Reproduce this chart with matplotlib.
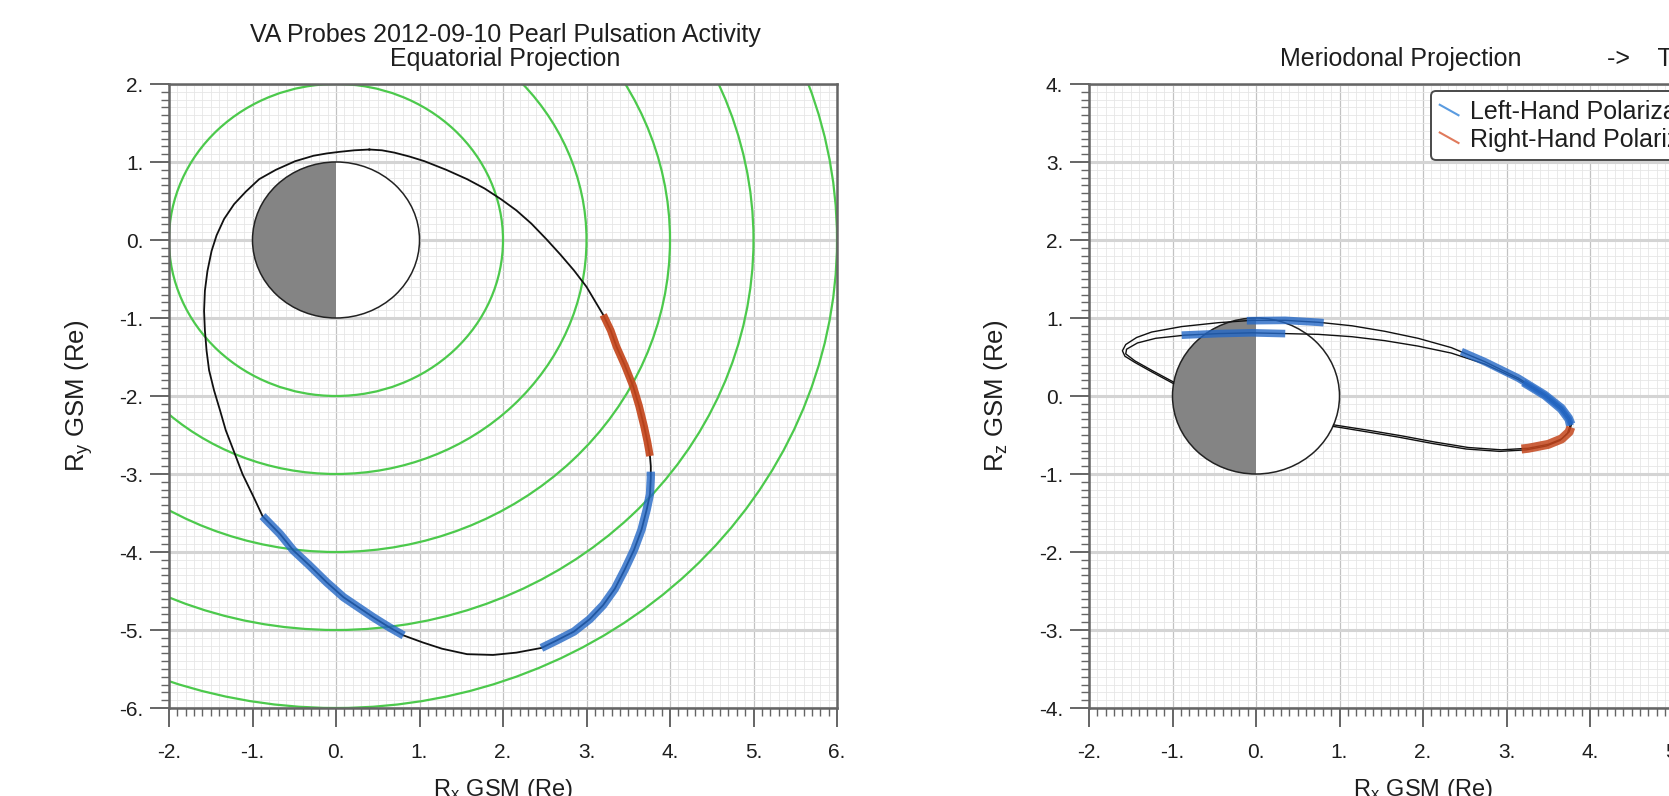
import matplotlib
matplotlib.use("Agg")
import matplotlib.pyplot as plt
from matplotlib.patches import Circle, Wedge
from matplotlib.ticker import MultipleLocator, FuncFormatter
from matplotlib.legend_handler import HandlerBase
from matplotlib.lines import Line2D

plt.rcParams['font.family'] = ['Liberation Sans', 'DejaVu Sans']
plt.rcParams['mathtext.default'] = 'regular'

# ---------------- data ----------------
# Equatorial projection orbit (Rx, Ry GSM, Re)
eq_x = [0.40, 0.22, 0.04, -0.11, -0.27, -0.49, -0.72, -0.92, -1.08, -1.22,
        -1.34, -1.43, -1.49, -1.54, -1.57, -1.58, -1.57, -1.55, -1.52, -1.46,
        -1.39, -1.32, -1.23, -1.12, -0.98, -0.88, -0.67, -0.51, -0.32, -0.11,
        0.09, 0.27, 0.45, 0.63, 0.81, 1.04, 1.27, 1.57, 1.88, 2.16,
        2.46, 2.65, 2.85, 3.04, 3.20, 3.34, 3.46, 3.57, 3.66, 3.72,
        3.76, 3.77, 3.77, 3.77, 3.76, 3.73, 3.69, 3.63, 3.56, 3.46,
        3.36, 3.29, 3.20, 3.10, 3.00, 2.85, 2.69, 2.52, 2.34, 2.16,
        1.98, 1.78, 1.57, 1.32, 1.06, 0.88, 0.70, 0.55, 0.40]
eq_y = [1.16, 1.15, 1.13, 1.11, 1.08, 1.01, 0.90, 0.78, 0.62, 0.46,
        0.27, 0.06, -0.14, -0.40, -0.65, -0.91, -1.16, -1.42, -1.67, -1.93,
        -2.18, -2.44, -2.69, -3.00, -3.31, -3.54, -3.77, -3.98, -4.17, -4.39,
        -4.58, -4.71, -4.84, -4.96, -5.07, -5.16, -5.24, -5.31, -5.32, -5.29,
        -5.23, -5.13, -5.02, -4.86, -4.68, -4.47, -4.22, -3.97, -3.71, -3.46,
        -3.26, -3.05, -2.97, -2.90, -2.77, -2.59, -2.39, -2.13, -1.88, -1.61,
        -1.37, -1.16, -0.96, -0.78, -0.60, -0.39, -0.19, 0.01, 0.21, 0.38,
        0.52, 0.66, 0.78, 0.90, 1.01, 1.07, 1.12, 1.15, 1.16]
eq_lh_spans = [(25, 34), (40, 52)]   # left-hand polarization intervals (index ranges)
eq_rh_spans = [(54, 62)]             # right-hand polarization intervals

ring_radii = [2, 3, 4, 5, 6]
earth_radius = 1.0

# Meridional projection: two orbit passes (Rx, Rz GSM, Re)
mer_a_x = [-0.99, -1.25, -1.45, -1.57, -1.60, -1.56, -1.43, -1.25, -0.89, -0.45,
           -0.05, 0.35, 0.75, 1.15, 1.54, 1.94, 2.34, 2.74, 3.14, 3.46,
           3.66, 3.75, 3.78, 3.75, 3.66, 3.50, 3.26, 2.94, 2.54, 2.14,
           1.74, 1.35, 0.93]
mer_a_z = [0.16, 0.31, 0.43, 0.51, 0.58, 0.66, 0.75, 0.82, 0.89, 0.94,
           0.97, 0.97, 0.945, 0.90, 0.83, 0.74, 0.62, 0.44, 0.23, 0.02,
           -0.15, -0.28, -0.36, -0.46, -0.55, -0.62, -0.67, -0.69, -0.66, -0.59,
           -0.51, -0.44, -0.37]
mer_b_x = [-0.99, -1.25, -1.45, -1.56, -1.55, -1.42, -1.20, -0.85, -0.45, -0.05,
           0.35, 0.75, 1.15, 1.54, 1.94, 2.34, 2.74, 3.14, 3.46, 3.65,
           3.74, 3.76, 3.73, 3.64, 3.48, 3.24, 2.92, 2.52, 2.12, 1.72,
           1.33, 0.93]
mer_b_z = [0.18, 0.33, 0.45, 0.54, 0.60, 0.68, 0.74, 0.78, 0.80, 0.81,
           0.80, 0.79, 0.76, 0.71, 0.64, 0.55, 0.41, 0.21, 0.00, -0.17,
           -0.30, -0.38, -0.48, -0.57, -0.64, -0.69, -0.71, -0.68, -0.61, -0.53,
           -0.46, -0.39]

mer_lh1_x = [-0.11, 0.35, 0.75, 0.81]
mer_lh1_z = [0.965, 0.97, 0.945, 0.94]
mer_lh2_x = [-0.89, -0.45, -0.05, 0.35]
mer_lh2_z = [0.78, 0.80, 0.81, 0.80]
mer_lh3_x = [2.46, 2.74, 3.14, 3.46, 3.66, 3.75, 3.78]
mer_lh3_z = [0.57, 0.44, 0.23, 0.02, -0.15, -0.28, -0.36]
mer_lh4_x = [3.20, 3.46, 3.65, 3.74, 3.76]
mer_lh4_z = [0.17, 0.00, -0.17, -0.30, -0.38]
mer_rh1_x = [3.77, 3.75, 3.66, 3.50, 3.26, 3.18]
mer_rh1_z = [-0.40, -0.46, -0.55, -0.62, -0.67, -0.68]

legend_labels = ["Left-Hand Polarization", "Right-Hand Polarization"]
major_ticks = [-6, -5, -4, -3, -2, -1, 0, 1, 2, 3, 4, 5, 6]

# ---------------- styling ----------------
BLUE = '#2468c6'
RED = '#c4461c'
GREEN = '#4cc94c'
EARTH_GRAY = '#848484'
SPINE = '#656565'
TXT = '#1e1e1e'

W, H = 1669, 796
fig = plt.figure(figsize=(W / 100, H / 100), dpi=100)

ax1 = fig.add_axes([169 / W, 1 - 708 / H, 668 / W, 624 / H])
ax2 = fig.add_axes([1089 / W, 1 - 708 / H, 668 / W, 624 / H])

fmt = FuncFormatter(lambda v, p: f"{int(round(v))}.")


def style_axes(ax, xlim, ylim):
    ax.set_xlim(*xlim)
    ax.set_ylim(*ylim)
    ax.set_xticks([t for t in major_ticks if xlim[0] <= t <= xlim[1]])
    ax.set_yticks([t for t in major_ticks if ylim[0] <= t <= ylim[1]])
    ax.xaxis.set_minor_locator(MultipleLocator(0.1))
    ax.yaxis.set_minor_locator(MultipleLocator(0.1))
    ax.xaxis.set_major_formatter(fmt)
    ax.yaxis.set_major_formatter(fmt)
    ax.tick_params(which='major', direction='out', length=13.5, width=1.4,
                   color=SPINE, labelsize=15, labelcolor=TXT)
    ax.tick_params(which='minor', direction='out', length=5.5, width=1.0,
                   color=SPINE)
    ax.tick_params(axis='x', which='major', pad=12)
    ax.tick_params(axis='y', which='major', pad=5)
    ax.set_axisbelow(True)
    ax.grid(which='minor', color='#e6e6e6', lw=0.6)
    ax.grid(which='major', axis='x', color='#c2c2c2', lw=0.9)
    ax.grid(which='major', axis='y', color='#d4d4d4', lw=2.2)
    for s in ax.spines.values():
        s.set_color(SPINE)
        s.set_linewidth(1.8)


def draw_earth(ax):
    ax.add_patch(Wedge((0, 0), earth_radius, 90, 270, facecolor=EARTH_GRAY,
                       edgecolor='none', zorder=2))
    ax.add_patch(Wedge((0, 0), earth_radius, -90, 90, facecolor='white',
                       edgecolor='none', zorder=2))
    ax.add_patch(Circle((0, 0), earth_radius, fill=False, edgecolor='#222222',
                        lw=1.1, zorder=2.1))


# ---------------- Equatorial panel ----------------
style_axes(ax1, (-2, 6), (-6, 2))
for r in ring_radii:
    ax1.add_patch(Circle((0, 0), r, fill=False, edgecolor=GREEN, lw=1.6, zorder=1))
draw_earth(ax1)
ax1.plot(eq_x, eq_y, color='#111111', lw=1.3, zorder=4, solid_joinstyle='round')
for s, e in eq_lh_spans:
    ax1.plot(eq_x[s:e + 1], eq_y[s:e + 1], color=BLUE, lw=6.0, alpha=0.8,
             solid_capstyle='butt', solid_joinstyle='round', zorder=4.5)
for s, e in eq_rh_spans:
    ax1.plot(eq_x[s:e + 1], eq_y[s:e + 1], color=RED, lw=5.5, alpha=0.92,
             solid_capstyle='butt', solid_joinstyle='round', zorder=5)

ax1.set_xlabel('R$_x$ GSM (Re)', fontsize=17, color=TXT)
ax1.set_ylabel('R$_y$ GSM (Re)', fontsize=18.5, color=TXT)
ax1.xaxis.set_label_coords(0.5, 1 - (777 - 84) / 624)
ax1.yaxis.set_label_coords((95 - 169) / 668, 0.5)

# ---------------- Meridional panel ----------------
style_axes(ax2, (-2, 6), (-4, 4))
draw_earth(ax2)
ax2.plot(mer_a_x, mer_a_z, color='#111111', lw=1.0, zorder=4)
ax2.plot(mer_b_x, mer_b_z, color='#111111', lw=1.0, zorder=4)
for xs, zs in [(mer_lh1_x, mer_lh1_z), (mer_lh2_x, mer_lh2_z),
               (mer_lh3_x, mer_lh3_z), (mer_lh4_x, mer_lh4_z)]:
    ax2.plot(xs, zs, color=BLUE, lw=5.5, alpha=0.8, solid_capstyle='butt',
             solid_joinstyle='round', zorder=4.5)
ax2.plot(mer_rh1_x, mer_rh1_z, color=RED, lw=6.5, alpha=0.85,
         solid_capstyle='butt', solid_joinstyle='round', zorder=5)

ax2.set_xlabel('R$_x$ GSM (Re)', fontsize=17, color=TXT)
ax2.set_ylabel('R$_z$ GSM (Re)', fontsize=18.5, color=TXT)
ax2.xaxis.set_label_coords(0.5, 1 - (777 - 84) / 624)
ax2.yaxis.set_label_coords((1010 - 1089) / 668, 0.5)


class DiagHandler(HandlerBase):
    def create_artists(self, legend, orig_handle, xdescent, ydescent,
                       width, height, fontsize, trans):
        x0, y0 = -xdescent, -ydescent
        ln = Line2D([x0, x0 + width], [y0 + height * 0.8, y0 + height * 0.2],
                    color=orig_handle.get_color(), lw=1.5, transform=trans)
        return [ln]


h1 = Line2D([], [], color='#5a9be0')
h2 = Line2D([], [], color='#e07a5c')
leg = ax2.legend([h1, h2], legend_labels, loc='upper left',
                 bbox_to_anchor=((1431 - 1089) / 668, 1 - (91 - 84) / 624),
                 borderaxespad=0, fontsize=18, handlelength=0.75,
                 handletextpad=0.45, labelspacing=0.15, borderpad=0.35,
                 fancybox=True, framealpha=1.0,
                 handler_map={Line2D: DiagHandler()})
leg.get_frame().set_edgecolor('#4a4a4a')
leg.get_frame().set_linewidth(1.4)
for t in leg.get_texts():
    t.set_color(TXT)
leg.set_zorder(10)

# ---------------- titles ----------------
fig.text(505 / W, 1 - 42 / H, 'VA Probes 2012-09-10 Pearl Pulsation Activity',
         ha='center', va='baseline', fontsize=18, color=TXT)
fig.text(505 / W, 1 - 66 / H, 'Equatorial Projection',
         ha='center', va='baseline', fontsize=18, color=TXT)
fig.text(1401 / W, 1 - 66 / H, 'Meriodonal Projection',
         ha='center', va='baseline', fontsize=18, color=TXT)
fig.text(1607 / W, 1 - 66 / H, '->    Time Series',
         ha='left', va='baseline', fontsize=18, color=TXT)

fig.savefig('out.png', dpi=100)
